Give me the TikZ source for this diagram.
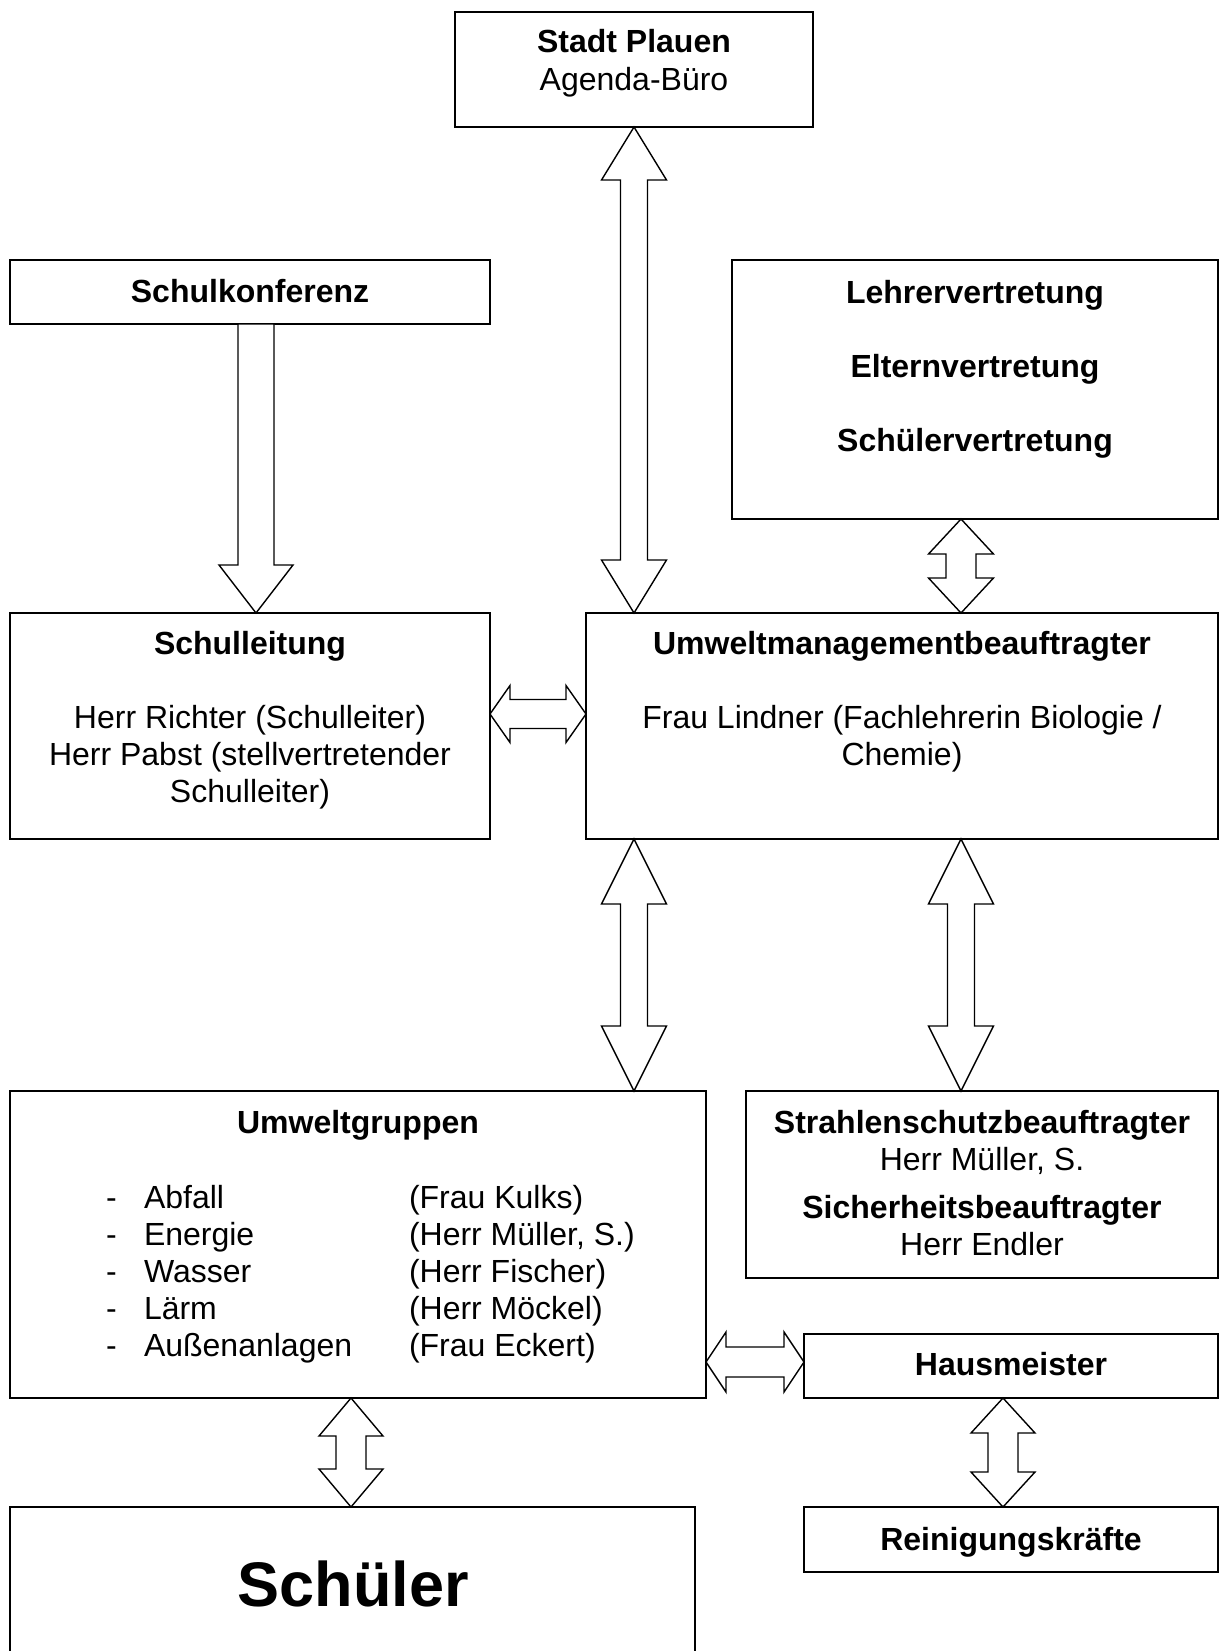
\documentclass[tikz,border=0pt]{standalone}
\usepackage{fontspec}
\setmainfont{Liberation Sans}
\usetikzlibrary{calc}
\tikzset{
  box/.style={draw, line width=1.6bp, inner sep=0pt, outer sep=0pt, rectangle},
  txt/.style={inner sep=0pt, outer sep=0pt, anchor=base, font=\fontsize{32bp}{37bp}\selectfont},
  btxt/.style={txt, font=\fontsize{32bp}{37bp}\selectfont\bfseries},
  ltxt/.style={txt, anchor=base west},
  blk/.style={draw, line width=1.4bp, fill=white, line join=miter}
}
% vertical double block arrow: top point, bottom point, head length top, head length bottom, head half width, shaft half width
\newcommand\vdarrow[6]{%
  \draw[blk] let \p1=(#1), \p2=(#2) in
  (\x1,\y1) -- (\x1+#5bp,\y1-#3bp) -- (\x1+#6bp,\y1-#3bp) -- (\x1+#6bp,\y2+#4bp)
  -- (\x1+#5bp,\y2+#4bp) -- (\x1,\y2) -- (\x1-#5bp,\y2+#4bp) -- (\x1-#6bp,\y2+#4bp)
  -- (\x1-#6bp,\y1-#3bp) -- (\x1-#5bp,\y1-#3bp) -- cycle;}
% vertical single block arrow pointing down
\newcommand\vsarrow[5]{%
  \draw[blk] let \p1=(#1), \p2=(#2) in
  (\x1-#5bp,\y1) -- (\x1+#5bp,\y1) -- (\x1+#5bp,\y2+#3bp) -- (\x1+#4bp,\y2+#3bp)
  -- (\x1,\y2) -- (\x1-#4bp,\y2+#3bp) -- (\x1-#5bp,\y2+#3bp) -- cycle;}
% horizontal double block arrow: left point, right point, head len left, head len right, head half, shaft half
\newcommand\hdarrow[6]{%
  \draw[blk] let \p1=(#1), \p2=(#2) in
  (\x1,\y1) -- (\x1+#3bp,\y1+#5bp) -- (\x1+#3bp,\y1+#6bp) -- (\x2-#4bp,\y1+#6bp)
  -- (\x2-#4bp,\y1+#5bp) -- (\x2,\y1) -- (\x2-#4bp,\y1-#5bp) -- (\x2-#4bp,\y1-#6bp)
  -- (\x1+#3bp,\y1-#6bp) -- (\x1+#3bp,\y1-#5bp) -- cycle;}
\begin{document}
\begin{tikzpicture}[x=1bp,y=-1bp]
\path[use as bounding box] (0,0) rectangle (1226,1651);
\clip (0,0) rectangle (1226,1651);

% boxes
\node[box, minimum width=358bp, minimum height=115bp] (stadt) at (634,69.5) {};
\node[box, minimum width=480bp, minimum height=64bp] (konf) at (250,292) {};
\node[box, minimum width=486bp, minimum height=259bp] (vertr) at (975,389.5) {};
\node[box, minimum width=480bp, minimum height=226bp] (leitung) at (250,726) {};
\node[box, minimum width=632bp, minimum height=226bp] (umwelt) at (902,726) {};
\node[box, minimum width=696bp, minimum height=307bp] (gruppen) at (358,1244.5) {};
\node[box, minimum width=472bp, minimum height=187bp] (strahlen) at (982,1184.5) {};
\node[box, minimum width=414bp, minimum height=64bp] (haus) at (1011,1366) {};
\node[box, minimum width=414bp, minimum height=65bp] (rein) at (1011,1539.5) {};
\node[box, minimum width=685bp, minimum height=173bp] (schueler) at (352.5,1593.5) {};

% texts
\node[btxt] (t1) at (634,53) {Stadt Plauen};
\node[txt] (t2) at (634,90) {Agenda-Büro};
\node[btxt] (t3) at (250,302) {Schulkonferenz};
\node[btxt] (t4) at (975,303) {Lehrervertretung};
\node[btxt] (t5) at (975,377) {Elternvertretung};
\node[btxt] (t6) at (975,451) {Schülervertretung};
\node[btxt] (t7) at (250,654) {Schulleitung};
\node[txt] (t8) at (250,728) {Herr Richter (Schulleiter)};
\node[txt] (t9) at (250,765) {Herr Pabst (stellvertretender};
\node[txt] (t10) at (250,802) {Schulleiter)};
\node[btxt] (t11) at (902,654) {Umweltmanagementbeauftragter};
\node[txt] (t12) at (902,728) {Frau Lindner (Fachlehrerin Biologie /};
\node[txt] (t13) at (902,765) {Chemie)};
\node[btxt] (t14) at (358,1133) {Umweltgruppen};
\node[ltxt] (d1) at (106,1208) {-};
\node[ltxt] (d2) at (106,1245) {-};
\node[ltxt] (d3) at (106,1282) {-};
\node[ltxt] (d4) at (106,1319) {-};
\node[ltxt] (d5) at (106,1356) {-};
\node[ltxt] (n1) at (144,1208) {Abfall};
\node[ltxt] (n2) at (144,1245) {Energie};
\node[ltxt] (n3) at (144,1282) {Wasser};
\node[ltxt] (n4) at (144,1319) {Lärm};
\node[ltxt] (n5) at (144,1356) {Außenanlagen};
\node[ltxt] (p1) at (409,1208) {(Frau Kulks)};
\node[ltxt] (p2) at (409,1245) {(Herr Müller, S.)};
\node[ltxt] (p3) at (409,1282) {(Herr Fischer)};
\node[ltxt] (p4) at (409,1319) {(Herr Möckel)};
\node[ltxt] (p5) at (409,1356) {(Frau Eckert)};
\node[btxt] (t15) at (982,1133) {Strahlenschutzbeauftragter};
\node[txt] (t16) at (982,1170) {Herr Müller, S.};
\node[btxt] (t17) at (982,1218) {Sicherheitsbeauftragter};
\node[txt] (t18) at (982,1255) {Herr Endler};
\node[btxt] (t19) at (1011,1375) {Hausmeister};
\node[btxt] (t20) at (1011,1550) {Reinigungskräfte};
\node[txt, font=\fontsize{63bp}{72bp}\selectfont\bfseries] (t21) at (353,1606) {Schüler};

% connector anchor points
\coordinate (a2) at ($(konf.south)+(6,0)$);
\coordinate (a3) at ($(vertr.south)+(-14,0)$);
\coordinate (h1) at ($(leitung.east)+(0,-12)$);
\coordinate (a5) at ($(umwelt.south west)+(48,0)$);
\coordinate (h2) at ($(haus.west)+(0,-4)$);
\coordinate (a8) at ($(gruppen.south)+(-7,0)$);
\coordinate (a9) at ($(haus.south)+(-8,0)$);

% block arrows
\vdarrow{stadt.south}{stadt.south |- umwelt.north}{53}{53}{32.5}{13.5}
\vsarrow{a2}{a2 |- leitung.north}{48}{37}{18}
\vdarrow{a3}{a3 |- umwelt.north}{35}{35}{32.5}{15}
\hdarrow{h1}{umwelt.west |- h1}{20}{20}{28.5}{14.5}
\vdarrow{a5}{a5 |- gruppen.north}{65}{65}{32.5}{13.5}
\vdarrow{a3 |- umwelt.south}{a3 |- strahlen.north}{65}{65}{32.5}{13.5}
\hdarrow{gruppen.east |- h2}{h2}{20}{20}{30}{15}
\vdarrow{a8}{a8 |- schueler.north}{38}{38}{32}{15}
\vdarrow{a9}{a9 |- rein.north}{35}{35}{32}{15}
\end{tikzpicture}
\end{document}
